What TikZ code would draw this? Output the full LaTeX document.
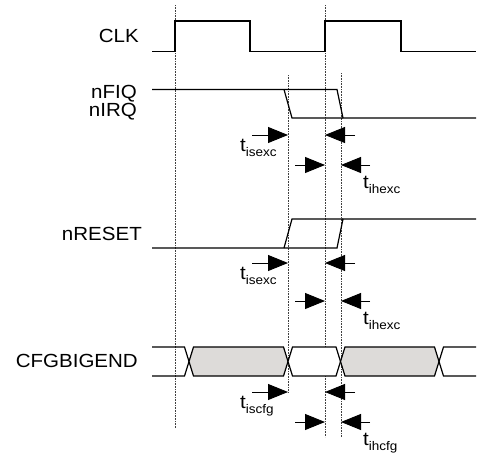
\documentclass[tikz,border=0pt]{standalone}
\usepackage{fontspec}
\setmainfont[FakeStretch=1.08]{Liberation Sans}
\usetikzlibrary{arrows.meta}

\definecolor{busgrey}{RGB}{221,219,217}
\newcommand{\tsub}[1]{\raisebox{-5pt}{\fontsize{12.5}{12.5}\selectfont #1}}

\begin{document}
\begin{tikzpicture}[x=1pt, y=-1pt,
    sig/.style={line width=1.2pt, line join=miter},
    vguide/.style={densely dotted, line width=0.6pt, black!75},
    tarrow/.style={line width=0.9pt, draw=black, -{Triangle[length=20pt, width=16pt]}},
    signame/.style={inner sep=0pt, anchor=base east, font=\fontsize{19}{19}\selectfont},
    tlbl/.style={inner sep=0pt, anchor=base west, font=\fontsize{19}{19}\selectfont}]
    \useasboundingbox (0,0) rectangle (482,455);

    % clock edges and sample windows
    \draw[vguide] (175,5) -- (175,428);
    \draw[vguide] (325,5) -- (325,437);
    \draw[vguide] (288,75) -- (288,393);
    \draw[vguide] (341,73) -- (341,437);

    % signal names
    \node[signame] (clk) at (139,42.7) {CLK};
    \node[signame, text depth=0pt] (nfiq) at (137,98) {nFIQ};
    \node[signame, text height=13pt] (nirq) at (137,116.5) {nIRQ};
    \node[signame] (nreset) at (142,240) {nRESET};
    \node[signame] (cfg) at (138,367) {CFGBIGEND};

    % CLK
    \draw[sig] (152,51.5) -- (175,51.5) -- (175,21) -- (250,21) -- (250,51.5)
        -- (325,51.5) -- (325,21) -- (401,21) -- (401,51.5) -- (476,51.5);

    % nFIQ / nIRQ
    \draw[sig] (152,89.5) -- (337,89.5) -- (343,118) -- (476,118);
    \draw[sig] (284,89.5) -- (292,118) -- (343,118);

    % nRESET
    \draw[sig] (152,248) -- (337,248) -- (343,219) -- (476,219);
    \draw[sig] (284,248) -- (292,219) -- (343,219);

    % CFGBIGEND bus
    \draw[sig] (152,347) -- (184.5,347) -- (189,361.5) -- (184.5,376) -- (152,376);
    \foreach \ca/\cb/\col in {189/288/busgrey, 288/340.5/white, 340.5/439/busgrey}
        \draw[sig, fill=\col] (\ca,361.5) -- (\ca+4.5,347) -- (\cb-4.5,347)
            -- (\cb,361.5) -- (\cb-4.5,376) -- (\ca+4.5,376) -- cycle;
    \draw[sig] (476,347) -- (443.5,347) -- (439,361.5) -- (443.5,376) -- (476,376);

    % setup / hold arrows
    \foreach \ya/\yb/\sa/\sb in {135/165/isexc/ihexc, 263/301/isexc/ihexc, 392/422/iscfg/ihcfg} {
        \draw[tarrow] (252,\ya) -- (288,\ya);
        \draw[tarrow] (355,\ya) -- (325,\ya);
        \draw[tarrow] (295,\yb) -- (325,\yb);
        \draw[tarrow] (370,\yb) -- (341,\yb);
        \node[tlbl] (set\ya) at (240,\ya+16) {t\tsub{\sa}};
        \node[tlbl] (hold\yb) at (363,\yb+23) {t\tsub{\sb}};
    }
\end{tikzpicture}
\end{document}
